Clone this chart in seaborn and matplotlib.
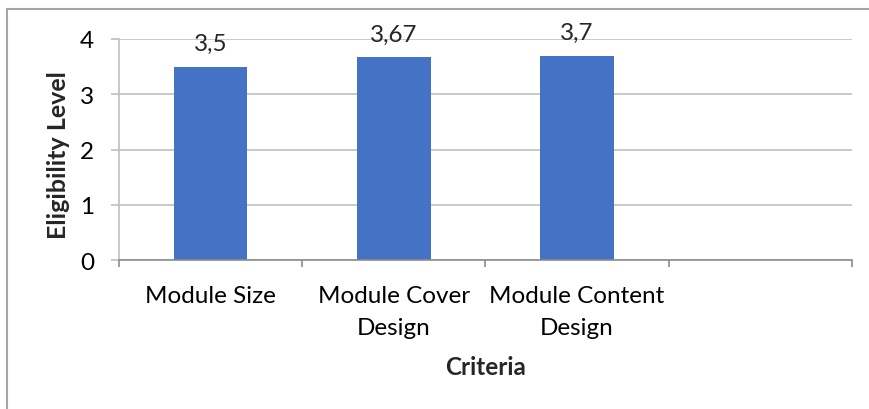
import matplotlib
matplotlib.use("Agg")
import matplotlib.pyplot as plt
import matplotlib.patches as mpatches
from matplotlib.ticker import FixedLocator, NullFormatter
import pandas as pd
import seaborn as sns

# data
categories = ["Module Size", "Module Cover\nDesign", "Module Content\nDesign"]
values = [3.5, 3.67, 3.7]
value_labels = ["3,5", "3,67", "3,7"]
y_ticks = [0, 1, 2, 3, 4]

sns.set_theme(style="white")
plt.rcParams["font.family"] = ["Lato", "DejaVu Sans"]

FS = 17.5

df = pd.DataFrame({"Criteria": categories, "Level": values})

fig = plt.figure(figsize=(8.69, 4.10), dpi=100)
ax = fig.add_axes([119 / 869, 1 - 261 / 410, (852 - 119) / 869, (261 - 40) / 410])

sns.barplot(data=df, x="Criteria", y="Level", color="#4472C4", width=0.4,
            saturation=1, edgecolor="none", ax=ax)

ax.set_xlim(-0.5, 3.5)
ax.set_ylim(0, 4)
ax.set_yticks(y_ticks)
ax.yaxis.grid(True, color="#c0c0c0", linewidth=1.2)
ax.set_axisbelow(True)

for side in ["top", "right"]:
    ax.spines[side].set_visible(False)
ax.spines["left"].set_color("#bfbfbf")
ax.spines["bottom"].set_color("#8c8c8c")
ax.spines["left"].set_linewidth(1.2)
ax.spines["bottom"].set_linewidth(1.2)

# category boundary tick marks
ax.xaxis.set_minor_locator(FixedLocator([-0.5, 0.5, 1.5, 2.5, 3.5]))
ax.xaxis.set_minor_formatter(NullFormatter())
ax.tick_params(axis="x", which="minor", direction="out", length=5,
               width=1.2, color="#8c8c8c", bottom=True)
ax.tick_params(axis="x", which="major", length=0, pad=18, labelsize=FS,
               labelcolor="#000000")
ax.tick_params(axis="y", direction="out", length=6, width=1.2,
               color="#bfbfbf", left=True, pad=12, labelsize=FS,
               labelcolor="#000000")
for lab in ax.get_xticklabels():
    lab.set_linespacing(1.65)

ax.bar_label(ax.containers[0], labels=value_labels, padding=9, fontsize=FS)

ax.set_xlabel("Criteria", fontsize=FS, fontweight="bold")
ax.set_ylabel("Eligibility Level", fontsize=18, fontweight="bold")
ax.xaxis.set_label_coords(0.5, -0.484)
ax.xaxis.label.set_va("center")
ax.yaxis.set_label_coords(-0.082, 0.48)
ax.yaxis.label.set_va("center")

# chart area border
fig.patches.append(mpatches.Rectangle((7 / 869, -0.1), 1.2, 1.1 - 10 / 410,
                                      transform=fig.transFigure, fill=False,
                                      edgecolor="#a6a6a6", linewidth=1.5))

fig.savefig("out.png", dpi=100, facecolor="white")
